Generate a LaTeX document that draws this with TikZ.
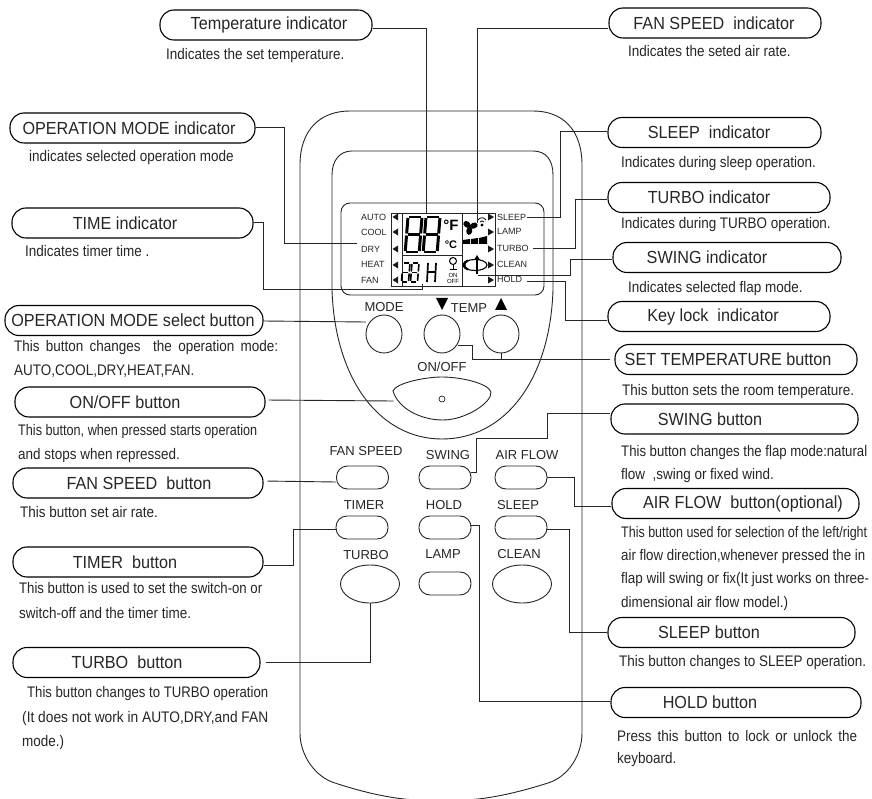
\documentclass[tikz,border=0pt]{standalone}
\usepackage{graphicx}
\usepackage{fontspec}
\setmainfont{Liberation Sans}
\newfontfamily\descfont[FakeStretch=0.88]{Liberation Sans}
\newfontfamily\pillfont[FakeStretch=0.925]{Liberation Sans}
\newcommand{\pillnode}[6]{% name, x1, x2, yc, text centre, text
  \pgfmathsetmacro{\pw}{#3-#2}\pgfmathsetmacro{\pc}{(#2+#3)/2}\pgfmathsetmacro{\pd}{2*(#5-\pc)}%
  \node[pillbox,minimum width=\pw pt] (#1) at (\pc,#4) {\kern\pd pt #6};}
\newcommand{\descnode}[4]{\node[desc] (#1) at (#2,#3) {#4};}
\newcommand{\descfit}[5]{\node[desc] (#1) at (#2,#3) {\resizebox{#4pt}{\height}{#5}};}
\newcommand{\segE}[4]{% x y w h : full digit
  \begin{scope}[shift={(#1,#2)},xslant=0.08,line width=#4*0.085pt]
  \pgfmathsetmacro{\hh}{#4/2}
  \draw (1,0)--(#3-1,0); \draw (1,\hh)--(#3-1,\hh); \draw (1,#4)--(#3-1,#4);
  \draw (0,1)--(0,\hh-1); \draw (#3,1)--(#3,\hh-1);
  \draw (0,\hh+1)--(0,#4-1); \draw (#3,\hh+1)--(#3,#4-1);
  \end{scope}}
\newcommand{\segD}[4]{% digit without upper-left segment
  \begin{scope}[shift={(#1,#2)},xslant=0.08,line width=#4*0.085pt]
  \pgfmathsetmacro{\hh}{#4/2}
  \draw (1,0)--(#3-1,0); \draw (1,\hh)--(#3-1,\hh); \draw (1,#4)--(#3-1,#4);
  \draw (#3,1)--(#3,\hh-1);
  \draw (0,\hh+1)--(0,#4-1); \draw (#3,\hh+1)--(#3,#4-1);
  \end{scope}}
\usetikzlibrary{shapes.geometric}
\tikzset{
  x=1pt,y=-1pt,
  pillbox/.style={draw=black,line width=1.1pt,rounded corners=14pt,minimum height=30pt,inner sep=0pt,text=black!85,font=\pillfont\fontsize{17.5}{18}\selectfont},
  desc/.style={anchor=base west,inner sep=0pt,text=black!85,font=\descfont\fontsize{15.3}{16}\selectfont},
  panel/.style={inner sep=0pt,text=black!85,font=\fontsize{13}{15}\selectfont},
  lcd/.style={anchor=base west,inner sep=0pt,text=black!85,font=\fontsize{9}{10}\selectfont},
  leader/.style={draw=black!85,line width=0.9pt},
  outline/.style={draw=black!85,line width=0.9pt},
  btnpill/.style={draw=black!85,line width=0.9pt,rounded corners=11pt,inner sep=0pt,minimum width=52pt,minimum height=23pt},
  btnoval/.style={ellipse,draw=black!85,line width=0.9pt,inner sep=0pt},
}
\begin{document}
\begin{tikzpicture}
\useasboundingbox (0,0) rectangle (872,799);
\fill[white] (0,0) rectangle (872,799);
% remote body
\begin{scope}
\clip (0,0) rectangle (872,799);
\draw[outline] (300,165) .. controls (300,130) and (320,111) .. (350,111) -- (533,111)
  .. controls (563,111) and (582,130) .. (582,165) -- (582,733)
  .. controls (582,755) and (568,777) .. (548,783)
  .. controls (520,792) and (490,799) .. (465,800) -- (417,800)
  .. controls (392,799) and (362,792) .. (335,783)
  .. controls (315,777) and (300,755) .. (300,733) -- cycle;
\end{scope}
% lens
\draw[outline] (332,175) .. controls (332,160) and (340,151) .. (352,151) -- (533,151)
  .. controls (546,151) and (553,160) .. (553,175) -- (553,290)
  .. controls (550,380) and (505,439) .. (442,439)
  .. controls (380,439) and (335,380) .. (332,290) -- cycle;
% LCD
\draw[outline,rounded corners=9pt] (341,203) rectangle (544,295);
\draw[outline,line width=0.7pt] (391,213) rectangle (495,286);
\draw[outline,line width=0.7pt] (402,213) -- (402,286) (462,213) -- (462,286) (402,255) -- (462,255);
\foreach \yy in {217,232,249,265,280}{
  \fill[black!90] (398,\yy-3.5) -- (392.5,\yy) -- (398,\yy+3.5) -- cycle;
  \fill[black!90] (488,\yy-3.5) -- (494,\yy) -- (488,\yy+3.5) -- cycle;
}
\node[lcd] (lauto) at (361,221) {AUTO};
\node[lcd] (lcool) at (361,236) {COOL};
\node[lcd] (ldry) at (361,252.5) {DRY};
\node[lcd] (lheat) at (361,268) {HEAT};
\node[lcd] (lfan) at (361,284) {FAN};
\node[lcd] (lsleep) at (497,221) {SLEEP};
\node[lcd] (llamp) at (497,235) {LAMP};
\node[lcd] (lturbo) at (497,252) {TURBO};
\node[lcd] (lclean) at (497,268) {CLEAN};
\node[lcd] (lhold) at (497,283) {HOLD};
% digits
\segE{408}{217}{14}{35}
\segE{426}{217}{14}{35}
\node[inner sep=0pt,font=\bfseries\fontsize{15}{15}\selectfont] (degf) at (451,225) {°F};
\node[inner sep=0pt,font=\bfseries\fontsize{11}{11}\selectfont] (degc) at (451,245) {°C};
\segD{403}{263}{7}{19}
\segE{412}{263}{7}{19}
\draw[line width=1.7pt] (428,263) -- (427,282) (436,263) -- (435,282) (427.5,272) -- (435.5,272);
\draw[line width=1pt] (453,261) circle (3.5);
\draw[line width=1pt] (453,264.5) -- (453,270) (449.5,270) -- (456.5,270);
\node[inner sep=0pt,font=\fontsize{6}{6}\selectfont] (lon) at (453,275) {ON};
\node[inner sep=0pt,font=\fontsize{6}{6}\selectfont] (loff) at (453,281.5) {OFF};
% fan icon and bars
\foreach \aa in {20,140,260}{
  \fill[rotate around={\aa:(470,227)}] (474,227) ellipse (4 and 3);
}
\fill (470,227) circle (1.5);
\draw[line width=0.8pt] (478,220) .. controls (480,217) and (484,217) .. (486,220);
\draw[line width=0.8pt] (480,222) .. controls (481,220.5) and (483,220.5) .. (484,222);
\fill (482,225) circle (1.6);
\fill (463,240) -- (470,239) -- (470,244) -- (463,244) -- cycle;
\fill (471,239) -- (478,238) -- (478,244) -- (471,244) -- cycle;
\fill (479,238) -- (487,236) -- (487,244) -- (479,244) -- cycle;
% swing icon
\draw[line width=1.1pt] (475,265) ellipse (12 and 5.5);
\draw[line width=2.2pt] (468,260.5) .. controls (463,262) and (463,268) .. (468,269.5);
\draw[line width=1.5pt] (477,258) -- (477,274);
\fill (477,255) -- (474,260) -- (480,260) -- cycle;
% buttons
\node[btnoval,minimum width=36pt,minimum height=38pt] (bmode) at (384,334) {};
\node[btnoval,minimum width=36pt,minimum height=38pt] (btdown) at (442,334) {};
\node[btnoval,minimum width=36pt,minimum height=38pt] (btup) at (501,334) {};
\draw[outline] (393,391) .. controls (396,383) and (425,377) .. (442,377)
  .. controls (460,377) and (488,383) .. (491,392)
  .. controls (492,403) and (465,420) .. (443,420)
  .. controls (420,420) and (398,408) .. (393,391) -- cycle;
\coordinate (bonoff) at (393.5,401);
\coordinate (emode) at (366,322);
\draw[line width=0.6pt] (442,399) circle (3);
\node[btnpill] (bfan) at (362.5,477.5) {};
\node[btnpill] (bswing) at (445,477.5) {};
\node[btnpill] (bair) at (521,477.5) {};
\node[btnpill] (btimer) at (362,527.5) {};
\node[btnpill] (bhold) at (445,527.5) {};
\node[btnpill] (bsleep) at (521,527.5) {};
\node[btnoval,minimum width=59pt,minimum height=38pt] (bturbo) at (370,584) {};
\node[btnpill] (blamp) at (445,583.5) {};
\node[btnoval,minimum width=59pt,minimum height=38pt] (bclean) at (522,584) {};
% button labels
\node[panel] (tmode) at (384,307) {MODE};
\node[panel] (ttemp) at (469,308) {TEMP};
\fill (436,298) -- (448,298) -- (442,310) -- cycle;
\fill (495,310) -- (507,310) -- (501,298) -- cycle;
\node[panel] (tonoff) at (442,367) {ON/OFF};
\node[panel] (tfan) at (366,451) {FAN SPEED};
\node[panel] (tswing) at (448,455) {SWING};
\node[panel] (tair) at (527,455) {AIR FLOW};
\node[panel] (ttimer) at (364,505) {TIMER};
\node[panel] (thold) at (444,505) {HOLD};
\node[panel] (tsleep) at (518,505) {SLEEP};
\node[panel] (tturbo) at (366,555) {TURBO};
\node[panel] (tlamp) at (443,554) {LAMP};
\node[panel] (tclean) at (519,554) {CLEAN};
% callout pills
\pillnode{ptemp}{160}{372}{25}{269}{Temperature indicator}
\pillnode{pmode}{10}{255}{128}{129}{OPERATION MODE indicator}
\pillnode{ptime}{12}{253}{223}{125}{TIME indicator}
\pillnode{pmodeb}{5}{263}{320.5}{133}{OPERATION MODE select button}
\pillnode{ponoff}{15}{265}{402}{125}{ON/OFF button}
\pillnode{pfanb}{13}{263}{483}{139}{FAN SPEED\ \ button}
\pillnode{ptimer}{13}{263}{562}{125}{TIMER\ \ button}
\pillnode{pturbo}{13}{260}{662.5}{127}{TURBO\ \ button}
\pillnode{pfani}{609}{821}{23}{714}{FAN SPEED\ \ indicator}
\pillnode{psleepi}{608}{821}{132.5}{709}{SLEEP\ \ indicator}
\pillnode{pturboi}{608}{830}{197.5}{709}{TURBO indicator}
\pillnode{pswingi}{613}{841}{257.5}{707}{SWING indicator}
\pillnode{pkey}{608}{830}{316.5}{713}{Key lock\ \ indicator}
\pillnode{pset}{615}{857}{359.5}{728}{SET TEMPERATURE button}
\pillnode{pswingb}{611}{858}{419}{710}{SWING button}
\pillnode{pair}{612}{859}{503.5}{743}{AIR FLOW\ \ button(optional)}
\pillnode{psleepb}{608}{855}{632.5}{709}{SLEEP button}
\pillnode{pholdb}{611}{861}{702.5}{710}{HOLD button}
% descriptions
\descnode{d1}{166}{60}{Indicates the set temperature.}
\descnode{d2}{29}{162}{indicates selected operation mode}
\descnode{d3}{25}{257}{Indicates timer time .}
\descnode{d4}{14}{351}{\makebox[264pt][s]{This button changes\ \ the operation mode:}}
\descnode{d5}{14}{375}{AUTO,COOL,DRY,HEAT,FAN.}
\descfit{d6}{18}{435}{239}{This button, when pressed starts operation}
\descnode{d7}{18}{459}{and stops when repressed.}
\descnode{d8}{20}{517}{This button set air rate.}
\descfit{d9}{19}{593}{243}{This button is used to set the switch-on or}
\descnode{d10}{19}{618}{switch-off and the timer time.}
\descfit{d11}{27}{697}{241}{This button changes to TURBO operation}
\descfit{d12}{22}{722}{246}{(It does not work in AUTO,DRY,and FAN}
\descnode{d13}{22}{746}{mode.)}
\descnode{d14}{628}{57}{Indicates the seted air rate.}
\descnode{d15}{621}{168}{Indicates during sleep operation.}
\descnode{d16}{621}{229}{Indicates during TURBO operation.}
\descnode{d17}{628}{293}{Indicates selected flap mode.}
\descnode{d18}{622}{395}{This button sets the room temperature.}
\descfit{d19}{621}{456}{246}{This button changes the flap mode:natural}
\descnode{d20}{621}{479}{flow\ \ ,swing or fixed wind.}
\descfit{d21}{621}{537}{246}{This button used for selection of the left/right}
\descfit{d22}{621}{560}{244}{air flow direction,whenever pressed the in}
\descfit{d23}{621}{583}{248}{flap will swing or fix(It just works on three-}
\descnode{d24}{621}{607}{dimensional air flow model.)}
\descnode{d25}{619}{666}{This button changes to SLEEP operation.}
\descnode{d26}{617}{741}{\makebox[240pt][s]{Press this button to lock or unlock the}}
\descnode{d27}{617}{763}{keyboard.}
% connector ends in the display
\coordinate (etemp) at (426,214);
\coordinate (efan) at (477,223);
\coordinate (edry) at (357,243);
\coordinate (etime) at (422,284);
\coordinate (esleep) at (527,217);
\coordinate (eturbo) at (533,248);
\coordinate (eswing) at (478,275);
\coordinate (ehold) at (527,281);
% connectors
\draw[leader] ([yshift=-3pt]ptemp.east) -- (426,28) -- (etemp);
\draw[leader] ([yshift=-5pt]pfani.west) -- (477,28) -- (efan);
\draw[leader] ([yshift=1pt]pmode.east) -- (284,127) -- (284,243) -- (edry);
\draw[leader] ([yshift=1pt]ptime.east) -- (263,222) -- (263,289) -- (422,289) -- (etime);
\draw[leader] ([yshift=1.5pt]psleepi.west) -- (560,131) -- (560,217) -- (esleep);
\draw[leader] ([yshift=-1.5pt]pturboi.west) -- (575,199) -- (575,248) -- (eturbo);
\draw[leader] ([yshift=-1.5pt]pswingi.west) -- (570,259) -- (570,275) -- (eswing);
\draw[leader] ([yshift=-3.5pt]pkey.west) -- (565,320) -- (565,281) -- (ehold);
\draw[leader] (pset.west) ++(-4,0) -- (472,359.5) -- (472,345) -- (458,345);
\draw[leader] (501,359.5) -- (btup.south);
\draw[leader] ([yshift=-0.5pt]pmodeb.east) -- (emode);
\draw[leader,shorten <=3pt] ([yshift=2pt]ponoff.east) -- (bonoff);
\draw[leader,shorten <=4pt] ([yshift=2pt]pfanb.east) -- ([yshift=-4.5pt]bfan.west);
\draw[leader] ([yshift=6pt]pswingb.west) -- (547,413) -- (547,438) -- (476,438) -- (476,472) -- ([yshift=5.5pt]bswing.east);
\draw[leader] ([yshift=-2.5pt]pair.west) -- (574,506) -- (574,477.5) -- (bair.east);
\draw[leader] ([yshift=-3pt]ptimer.east) -- (293,565) -- (293,529) -- ([yshift=-1.5pt]btimer.west);
\draw[leader,shorten <=5pt] (pturbo.east) -- (370,662.5) -- (bturbo.south);
\draw[leader] ([yshift=1.5pt]pholdb.west) -- (479,701) -- (479,525) -- ([yshift=2.5pt]bhold.east);
\draw[leader] (psleepb.west) -- (569,632.5) -- (569,529) -- ([yshift=-1.5pt]bsleep.east);
\end{tikzpicture}
\end{document}
